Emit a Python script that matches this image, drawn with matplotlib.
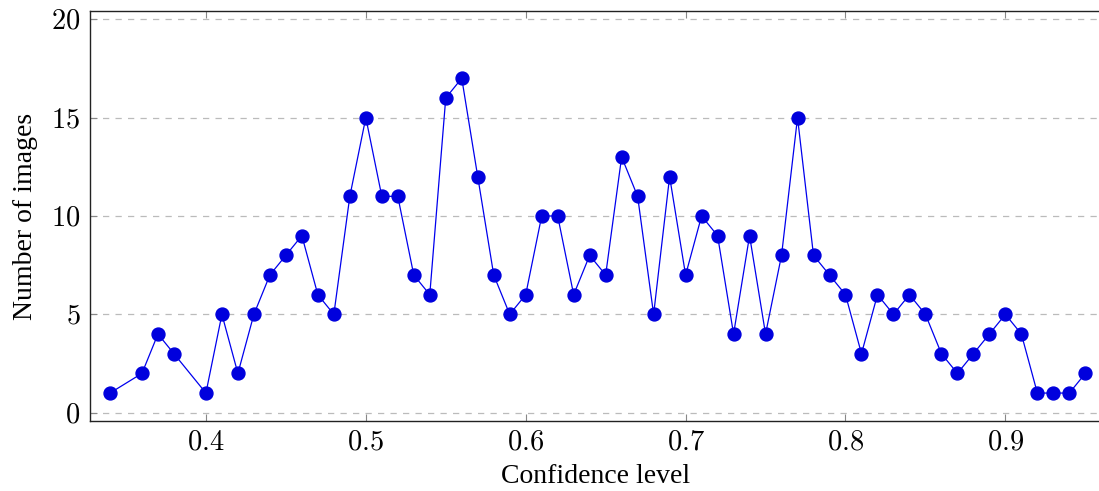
import matplotlib.pyplot as plt
import numpy as np

# confidence level vs number of images
conf = [0.34, 0.36, 0.37, 0.38, 0.40, 0.41, 0.42, 0.43, 0.44, 0.45, 0.46, 0.47,
        0.48, 0.49, 0.50, 0.51, 0.52, 0.53, 0.54, 0.55, 0.56, 0.57, 0.58, 0.59,
        0.60, 0.61, 0.62, 0.63, 0.64, 0.65, 0.66, 0.67, 0.68, 0.69, 0.70, 0.71,
        0.72, 0.73, 0.74, 0.75, 0.76, 0.77, 0.78, 0.79, 0.80, 0.81, 0.82, 0.83,
        0.84, 0.85, 0.86, 0.87, 0.88, 0.89, 0.90, 0.91, 0.92, 0.93, 0.94, 0.95]
counts = [1, 2, 4, 3, 1, 5, 2, 5, 7, 8, 9, 6,
          5, 11, 15, 11, 11, 7, 6, 16, 17, 12, 7, 5,
          6, 10, 10, 6, 8, 7, 13, 11, 5, 12, 7, 10,
          9, 4, 9, 4, 8, 15, 8, 7, 6, 3, 6, 5,
          6, 5, 3, 2, 3, 4, 5, 4, 1, 1, 1, 2]
xticks = [0.4, 0.5, 0.6, 0.7, 0.8, 0.9]
yticks = [0, 5, 10, 15, 20]

plt.rcParams['mathtext.fontset'] = 'cm'
plt.rcParams['font.family'] = ['Liberation Serif', 'DejaVu Serif']

fig = plt.figure(figsize=(10.99, 4.91), dpi=100)
ax = fig.add_axes([90/1099, 1 - 421/491, 1011/1099, 410/491])

ax.plot(conf, counts, color='#0000ee', lw=0.9, marker='o', ms=9.3,
        markerfacecolor='#0000dd', markeredgecolor='#0000dd')

ax.set_xlim(0.3275, 0.9598)
ax.set_ylim(-0.42, 20.42)
ax.set_xticks(xticks)
ax.set_yticks(yticks)
ax.set_xticklabels(['$%s$' % t for t in xticks])
ax.set_yticklabels(['$%d$' % t for t in yticks])
ax.tick_params(direction='in', length=5, width=0.8, color='#888888',
               labelsize=20.5, top=True, pad=7)
ax.yaxis.grid(True, linestyle=(0, (5, 5)), color='#bbbbbb', lw=0.9)
ax.set_axisbelow(True)
for s in ax.spines.values():
    s.set_linewidth(1.0)
    s.set_color('#222222')
ax.spines['right'].set_visible(False)

ax.set_xlabel('Confidence level', fontsize=20, labelpad=6)
ax.set_ylabel('Number of images', fontsize=20, labelpad=9)

fig.savefig('out.png', dpi=100)
